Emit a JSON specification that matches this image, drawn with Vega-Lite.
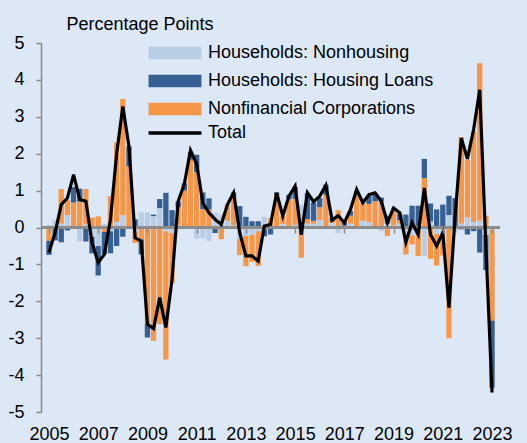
{
  "$schema": "https://vega.github.io/schema/vega-lite/v6.json",
  "width": 459,
  "height": 369,
  "autosize": {"type": "none"},
  "padding": {"left": 41, "top": 43, "right": 27, "bottom": 31},
  "background": "#dce8f6",
  "config": {"view": {"stroke": null}, "font": "Liberation Sans", "axisY": {"labelOverlap": false, "tickCount": 11}},
  "data": {"values": [
    {"t":2005.00,"nh":0.07,"hl":-0.38,"nfc":-0.36,"total":-0.68},
    {"t":2005.25,"nh":0.2,"hl":-0.35,"nfc":0.0,"total":-0.14},
    {"t":2005.50,"nh":0.1,"hl":-0.4,"nfc":0.94,"total":0.62},
    {"t":2005.75,"nh":0.33,"hl":-0.08,"nfc":0.42,"total":0.8},
    {"t":2006.00,"nh":0.0,"hl":0.42,"nfc":0.68,"total":1.43},
    {"t":2006.25,"nh":-0.38,"hl":0.35,"nfc":0.7,"total":0.76},
    {"t":2006.50,"nh":0.08,"hl":-0.38,"nfc":0.96,"total":0.71},
    {"t":2006.75,"nh":-0.25,"hl":-0.45,"nfc":0.27,"total":-0.41},
    {"t":2007.00,"nh":-0.5,"hl":-0.8,"nfc":0.3,"total":-0.95},
    {"t":2007.25,"nh":0.1,"hl":-0.6,"nfc":-0.12,"total":-0.73},
    {"t":2007.50,"nh":-0.1,"hl":-0.6,"nfc":0.85,"total":0.22},
    {"t":2007.75,"nh":0.15,"hl":-0.5,"nfc":2.15,"total":2.0},
    {"t":2008.00,"nh":0.33,"hl":-0.25,"nfc":3.15,"total":3.28},
    {"t":2008.25,"nh":0.0,"hl":0.54,"nfc":1.66,"total":2.2},
    {"t":2008.50,"nh":-0.12,"hl":0.22,"nfc":-0.3,"total":-0.28},
    {"t":2008.75,"nh":0.41,"hl":-0.41,"nfc":-0.32,"total":-0.37},
    {"t":2009.00,"nh":0.41,"hl":-0.36,"nfc":-2.62,"total":-2.62},
    {"t":2009.25,"nh":0.3,"hl":0.05,"nfc":-3.07,"total":-2.74},
    {"t":2009.50,"nh":0.52,"hl":0.25,"nfc":-2.62,"total":-1.9},
    {"t":2009.75,"nh":-0.1,"hl":0.94,"nfc":-3.48,"total":-2.71},
    {"t":2010.00,"nh":-0.15,"hl":0.47,"nfc":-1.36,"total":-1.4},
    {"t":2010.25,"nh":0.05,"hl":0.15,"nfc":0.5,"total":0.71},
    {"t":2010.50,"nh":0.0,"hl":0.2,"nfc":1.0,"total":1.18},
    {"t":2010.75,"nh":0.0,"hl":0.2,"nfc":1.84,"total":2.09},
    {"t":2011.00,"nh":-0.3,"hl":0.47,"nfc":1.5,"total":1.72},
    {"t":2011.25,"nh":-0.3,"hl":0.45,"nfc":0.5,"total":0.67},
    {"t":2011.50,"nh":-0.37,"hl":0.3,"nfc":0.49,"total":0.4},
    {"t":2011.75,"nh":0.4,"hl":-0.15,"nfc":0.0,"total":0.22},
    {"t":2012.00,"nh":0.35,"hl":0.0,"nfc":-0.32,"total":0.08},
    {"t":2012.25,"nh":0.18,"hl":0.0,"nfc":0.44,"total":0.62},
    {"t":2012.50,"nh":0.05,"hl":0.15,"nfc":0.75,"total":0.94},
    {"t":2012.75,"nh":-0.3,"hl":0.58,"nfc":-0.45,"total":-0.14},
    {"t":2013.00,"nh":-0.23,"hl":0.29,"nfc":-0.82,"total":-0.77},
    {"t":2013.25,"nh":-0.2,"hl":0.17,"nfc":-0.73,"total":-0.77},
    {"t":2013.50,"nh":-0.1,"hl":0.17,"nfc":-0.94,"total":-0.91},
    {"t":2013.75,"nh":0.29,"hl":-0.19,"nfc":-0.05,"total":0.04},
    {"t":2014.00,"nh":0.0,"hl":-0.19,"nfc":0.25,"total":0.08},
    {"t":2014.25,"nh":0.0,"hl":0.06,"nfc":0.89,"total":0.94},
    {"t":2014.50,"nh":0.09,"hl":0.0,"nfc":0.23,"total":0.31},
    {"t":2014.75,"nh":0.0,"hl":0.13,"nfc":0.76,"total":0.85},
    {"t":2015.00,"nh":0.07,"hl":0.32,"nfc":0.71,"total":1.12},
    {"t":2015.25,"nh":0.62,"hl":0.0,"nfc":-0.82,"total":-0.2},
    {"t":2015.50,"nh":0.1,"hl":0.7,"nfc":0.13,"total":0.94},
    {"t":2015.75,"nh":0.1,"hl":0.5,"nfc":0.08,"total":0.7},
    {"t":2016.00,"nh":0.2,"hl":0.25,"nfc":0.35,"total":0.85},
    {"t":2016.25,"nh":0.0,"hl":0.27,"nfc":0.89,"total":1.14},
    {"t":2016.50,"nh":0.12,"hl":0.05,"nfc":0.05,"total":0.2},
    {"t":2016.75,"nh":-0.15,"hl":0.0,"nfc":0.47,"total":0.32},
    {"t":2017.00,"nh":-0.05,"hl":0.13,"nfc":0.05,"total":0.13},
    {"t":2017.25,"nh":0.1,"hl":0.13,"nfc":0.22,"total":0.49},
    {"t":2017.50,"nh":0.0,"hl":0.1,"nfc":0.89,"total":1.03},
    {"t":2017.75,"nh":0.18,"hl":0.0,"nfc":0.49,"total":0.67},
    {"t":2018.00,"nh":0.15,"hl":0.22,"nfc":0.49,"total":0.89},
    {"t":2018.25,"nh":0.0,"hl":0.18,"nfc":0.71,"total":0.94},
    {"t":2018.50,"nh":-0.1,"hl":0.1,"nfc":0.71,"total":0.71},
    {"t":2018.75,"nh":0.1,"hl":0.22,"nfc":-0.23,"total":0.13},
    {"t":2019.00,"nh":0.05,"hl":0.0,"nfc":0.49,"total":0.53},
    {"t":2019.25,"nh":0.1,"hl":0.17,"nfc":0.1,"total":0.4},
    {"t":2019.50,"nh":-0.32,"hl":0.35,"nfc":-0.41,"total":-0.4},
    {"t":2019.75,"nh":-0.21,"hl":0.59,"nfc":-0.25,"total":0.13},
    {"t":2020.00,"nh":-0.09,"hl":0.59,"nfc":-0.68,"total":-0.19},
    {"t":2020.25,"nh":-0.77,"hl":0.52,"nfc":1.34,"total":1.07},
    {"t":2020.50,"nh":0.16,"hl":0.49,"nfc":-0.85,"total":-0.19},
    {"t":2020.75,"nh":-0.17,"hl":0.49,"nfc":-0.86,"total":-0.5},
    {"t":2021.00,"nh":-0.35,"hl":0.62,"nfc":-0.41,"total":-0.14},
    {"t":2021.25,"nh":0.33,"hl":0.53,"nfc":-3.0,"total":-2.17},
    {"t":2021.50,"nh":-0.15,"hl":0.8,"nfc":0.0,"total":0.3},
    {"t":2021.75,"nh":0.1,"hl":-0.05,"nfc":2.35,"total":2.42},
    {"t":2022.00,"nh":0.27,"hl":-0.19,"nfc":1.57,"total":1.86},
    {"t":2022.25,"nh":0.15,"hl":-0.1,"nfc":2.45,"total":2.65},
    {"t":2022.50,"nh":0.18,"hl":-0.68,"nfc":4.27,"total":3.73},
    {"t":2022.75,"nh":-0.2,"hl":-0.95,"nfc":0.31,"total":-0.5},
    {"t":2023.00,"nh":-0.05,"hl":-1.82,"nfc":-2.47,"total":-4.47}
  ]},
  "layer": [
    {
      "transform": [{"fold": ["nfc", "hl", "nh"], "as": ["series", "pp"]}],
      "mark": {"type": "bar", "size": 5.3},
      "encoding": {
        "x": {"field": "t", "type": "quantitative",
          "scale": {"domain": [2004.88, 2023.12], "nice": false, "zero": false},
          "axis": {"orient": "bottom", "values": [2005, 2007, 2009, 2011, 2013, 2015, 2017, 2019, 2021, 2023], "format": "d",
            "domain": false, "ticks": false, "grid": false, "title": null, "labelFontSize": 18, "labelColor": "#000000",
            "labelPadding": 13, "labelFlush": false, "labelOverlap": false}},
        "y": {"field": "pp", "type": "quantitative", "stack": "zero",
          "scale": {"domain": [-5, 5], "nice": false, "zero": false},
          "axis": {"values": [-5, -4, -3, -2, -1, 0, 1, 2, 3, 4, 5], "tickCount": 11, "grid": false, "labelOverlap": false,
            "labelExpr": "'' + datum.value",
            "domainColor": "#888888", "domainWidth": 1.5, "tickColor": "#888888", "tickWidth": 1.5, "tickSize": 5,
            "labelFontSize": 18, "labelColor": "#000000", "labelPadding": 12,
            "title": "Percentage Points", "titleAngle": 0, "titleX": 25, "titleY": -14, "titleAlign": "left",
            "titleBaseline": "alphabetic", "titleFontSize": 18, "titleFontWeight": "normal", "titleColor": "#000000"}},
        "color": {"field": "series", "type": "nominal", "sort": ["nfc", "hl", "nh"],
          "scale": {"domain": ["nh", "hl", "nfc"], "range": ["#b9cde5", "#376092", "#f79646"]},
          "legend": {"orient": "none", "legendX": 125, "legendY": 1, "title": null, "padding": 0,
            "symbolType": "M-4,-0.95H4V0.95H-4Z", "symbolSize": 175, "symbolStrokeWidth": 0, "symbolOpacity": 1,
            "labelFontSize": 18, "labelColor": "#000000", "labelOffset": 24, "rowPadding": 10, "labelLimit": 0,
            "labelExpr": "datum.label == 'nh' ? 'Households: Nonhousing' : datum.label == 'hl' ? 'Households: Housing Loans' : 'Nonfinancial Corporations'"}}
      }
    },
    {
      "mark": {"type": "rule", "color": "#8c8c8c", "strokeWidth": 2},
      "encoding": {"y": {"datum": 0, "type": "quantitative", "scale": {"domain": [-5, 5], "nice": false, "zero": false},
        "axis": {"values": [-5, -4, -3, -2, -1, 0, 1, 2, 3, 4, 5], "tickCount": 11, "labelOverlap": false}}}
    },
    {
      "mark": {"type": "line", "strokeWidth": 3.2},
      "encoding": {
        "x": {"field": "t", "type": "quantitative",
          "scale": {"domain": [2004.88, 2023.12], "nice": false, "zero": false},
          "axis": {"orient": "bottom", "offset": -184, "values": [2005, 2007, 2009, 2011, 2013, 2015, 2017, 2019, 2021, 2023],
            "labels": false, "domain": false, "ticks": true, "tickColor": "#8c8c8c", "tickWidth": 1.5, "tickSize": 5,
            "grid": false, "title": null, "zindex": 1}},
        "y": {"field": "total", "type": "quantitative", "scale": {"domain": [-5, 5], "nice": false, "zero": false},
          "axis": {"values": [-5, -4, -3, -2, -1, 0, 1, 2, 3, 4, 5], "tickCount": 11, "labelOverlap": false}},
        "stroke": {"datum": "Total", "type": "nominal", "scale": {"domain": ["Total"], "range": ["#000000"]},
          "legend": {"orient": "none", "legendX": 125, "legendY": 81, "title": null, "padding": 0,
            "symbolType": "M-4,0H4", "symbolSize": 175, "symbolStrokeWidth": 3.5, "symbolStrokeColor": "#000000",
            "labelFontSize": 18, "labelColor": "#000000", "labelOffset": 24, "labelLimit": 0}}
      }
    }
  ],
  "resolve": {"axis": {"x": "independent"}}
}
